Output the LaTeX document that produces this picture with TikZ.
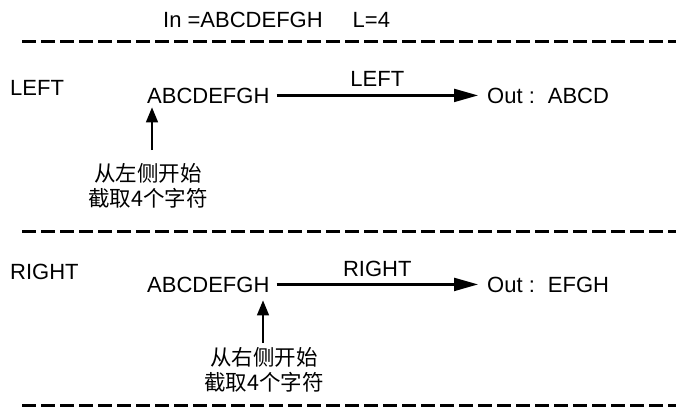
\documentclass[tikz,border=0pt]{standalone}
\usepackage{fontspec}
\setmainfont{Liberation Sans}
\newfontfamily\cjk{Noto Sans CJK SC}
\usetikzlibrary{arrows.meta}
\begin{document}
\begin{tikzpicture}[x=1pt,y=-1pt,
  txt/.style={inner sep=0pt, anchor=base west, font=\fontsize{22}{26}\selectfont},
  note/.style={inner sep=0pt, align=center, font=\cjk\fontsize{21.5}{24.5}\selectfont},
  sepline/.style={line width=3pt, dash pattern=on 14pt off 5pt},
  mainarrow/.style={line width=2.2pt, -{Triangle[length=24pt,width=13pt]}},
  uparrow/.style={line width=1.6pt, -{Triangle[length=15pt,width=12pt]}},
  lbl/.style={inner sep=0pt, font=\fontsize{22}{26}\selectfont}]
\useasboundingbox (0,0) rectangle (676,410);

% title
\node[txt] (title) at (163,27) {In =ABCDEFGH\hspace{30pt}L=4};

% separators
\coordinate (s1a) at (22,41);  \coordinate (s1b) at (676,41);
\coordinate (s2a) at (22,231); \coordinate (s2b) at (676,231);
\coordinate (s3a) at (22,405); \coordinate (s3b) at (676,405);
\draw[sepline] (s1a) -- (s1b);
\draw[sepline] (s2a) -- (s2b);
\draw[sepline] (s3a) -- (s3b);

% LEFT section
\node[txt] (left) at (10,95) {LEFT};
\node[txt] (src1) at (147,103) {ABCDEFGH};
\node[txt] (out1) at (487,103) {Out :\hspace{13pt}ABCD};
\draw[mainarrow] ([xshift=7pt]src1.east) -- node[lbl, above=8pt] (lblL) {LEFT} ([xshift=-9pt]out1.west |- src1.east);
\node[note] (note1) at (148,186) {从左侧开始\\截取4个字符};
\coordinate (a1) at (152,150);
\draw[uparrow] (a1) -- ([yshift=-4pt]src1.south -| a1);

% RIGHT section
\node[txt] (right) at (10,279) {RIGHT};
\node[txt] (src2) at (147,292) {ABCDEFGH};
\node[txt] (out2) at (487,292) {Out :\hspace{13pt}EFGH};
\draw[mainarrow] ([xshift=7pt]src2.east) -- node[lbl, above=7pt] (lblR) {RIGHT} ([xshift=-9pt]out2.west |- src2.east);
\node[note] (note2) at (264,370) {从右侧开始\\截取4个字符};
\coordinate (a2) at (263,343);
\draw[uparrow] (a2) -- ([yshift=-8pt]src2.south -| a2);
\end{tikzpicture}
\end{document}
